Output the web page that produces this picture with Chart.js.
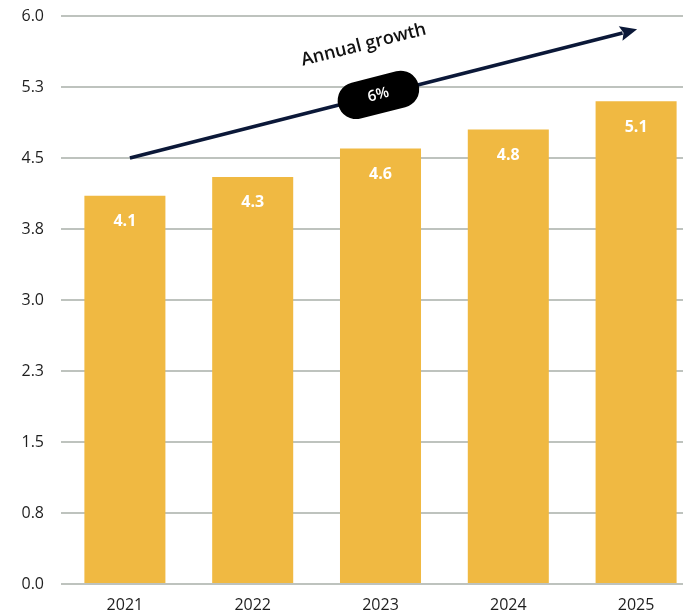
<!DOCTYPE html>
<html>
<head>
<meta charset="utf-8">
<script src="https://cdn.jsdelivr.net/npm/chart.js@4.4.1/dist/chart.umd.min.js"></script>
<style>
  html, body { margin: 0; padding: 0; background: #ffffff; overflow: hidden; }
  #wrap { width: 700px; height: 616px; }
</style>
</head>
<body>
<div id="wrap"><canvas id="chart" width="700" height="616"></canvas></div>
<script>
// Yearly values shown on the bars
const years = ['2021', '2022', '2023', '2024', '2025'];
const values = [4.1, 4.3, 4.6, 4.8, 5.1];
const yTickLabels = ['0.0', '0.8', '1.5', '2.3', '3.0', '3.8', '4.5', '5.3', '6.0'];
const growthTitle = 'Annual growth';
const growthRate = '6%';

const FONT = '"Open Sans", "Noto Sans", sans-serif';
const BAR_COLOR = '#F0B942';
const ARROW_COLOR = '#0B1838';

// Value labels inside the top of each bar
const barLabels = {
  id: 'barLabels',
  afterDatasetsDraw(chart) {
    const ctx = chart.ctx;
    const meta = chart.getDatasetMeta(0);
    ctx.save();
    ctx.fillStyle = '#ffffff';
    ctx.font = '700 16px ' + FONT;
    ctx.textAlign = 'center';
    ctx.textBaseline = 'middle';
    meta.data.forEach((bar, i) => {
      ctx.fillText(values[i].toFixed(1), bar.x, bar.y + 26);
    });
    ctx.restore();
  }
};

// Trend arrow with its title and rate badge
const growthArrow = {
  id: 'growthArrow',
  afterDatasetsDraw(chart) {
    const { ctx, scales: { x, y } } = chart;
    const x0 = x.getPixelForValue(0) + 5;
    const y0 = y.getPixelForValue(4.5);
    const x1 = x.getPixelForValue(4) + 1;
    const y1 = y.getPixelForValue(5.86);
    const ang = Math.atan2(y1 - y0, x1 - x0);
    const len = Math.hypot(x1 - x0, y1 - y0);
    const headLen = 17, headHalf = 7.5;

    ctx.save();
    ctx.translate(x0, y0);
    ctx.rotate(ang);

    // shaft
    ctx.strokeStyle = ARROW_COLOR;
    ctx.lineWidth = 3.5;
    ctx.beginPath();
    ctx.moveTo(0, 0);
    ctx.lineTo(len - headLen + 2, 0);
    ctx.stroke();

    // head
    ctx.fillStyle = ARROW_COLOR;
    ctx.beginPath();
    ctx.moveTo(len, 0);
    ctx.lineTo(len - headLen, -headHalf);
    ctx.lineTo(len - headLen + 3, 0);
    ctx.lineTo(len - headLen, headHalf);
    ctx.closePath();
    ctx.fill();

    // badge
    const mid = len * 0.49;
    const bw = 83, bh = 37, r = bh / 2;
    const by = 0;
    ctx.fillStyle = '#000000';
    ctx.beginPath();
    ctx.moveTo(mid - bw / 2 + r, by - bh / 2);
    ctx.lineTo(mid + bw / 2 - r, by - bh / 2);
    ctx.arc(mid + bw / 2 - r, by, r, -Math.PI / 2, Math.PI / 2);
    ctx.lineTo(mid - bw / 2 + r, by + bh / 2);
    ctx.arc(mid - bw / 2 + r, by, r, Math.PI / 2, Math.PI * 1.5);
    ctx.closePath();
    ctx.fill();

    ctx.fillStyle = '#ffffff';
    ctx.font = '600 15px ' + FONT;
    ctx.textAlign = 'center';
    ctx.textBaseline = 'middle';
    ctx.fillText(growthRate, mid, by);

    // title above the arrow
    ctx.fillStyle = '#111111';
    ctx.font = '600 18px ' + FONT;
    ctx.fillText(growthTitle, mid - 2, -52);

    ctx.restore();
  }
};

new Chart(document.getElementById('chart'), {
  type: 'bar',
  data: {
    labels: years,
    datasets: [{
      data: values,
      backgroundColor: BAR_COLOR,
      borderWidth: 0,
      categoryPercentage: 1,
      barPercentage: 0.634
    }]
  },
  options: {
    responsive: false,
    animation: false,
    layout: { padding: { top: 16, left: 0, right: 0, bottom: 0 } },
    plugins: {
      legend: { display: false },
      tooltip: { enabled: false }
    },
    scales: {
      x: {
        grid: { display: false, drawTicks: false },
        border: { display: false },
        ticks: {
          color: '#1E1E1E',
          font: { family: FONT, size: 16 },
          padding: 12
        },
        afterFit(s) { s.height = 32; s.paddingLeft = 0; s.paddingRight = 0; }
      },
      y: {
        min: 0,
        max: 6,
        grid: { color: '#BEC3BE', lineWidth: 2, drawTicks: false },
        border: { display: false },
        ticks: {
          stepSize: 0.75,
          color: '#1E1E1E',
          font: { family: FONT, size: 16 },
          padding: 17,
          callback: (v, i) => yTickLabels[i]
        },
        afterFit(s) { s.width = 61; s.paddingTop = 0; s.paddingBottom = 0; }
      }
    }
  },
  plugins: [barLabels, growthArrow]
});
</script>
</body>
</html>
